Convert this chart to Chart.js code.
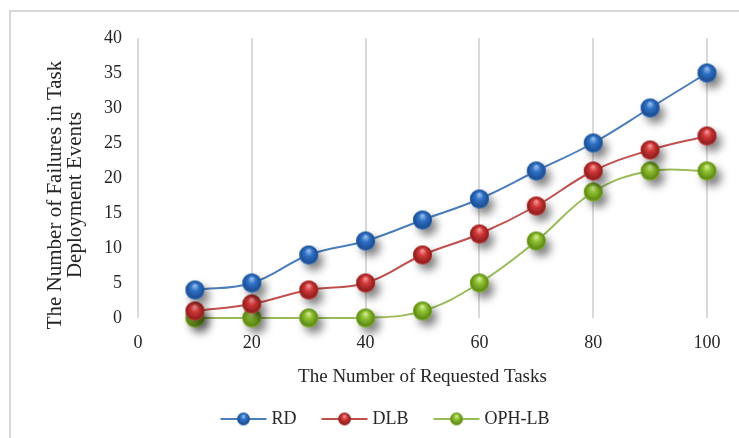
<!DOCTYPE html>
<html>
<head>
<meta charset="utf-8">
<script src="https://cdn.jsdelivr.net/npm/chart.js@4/dist/chart.umd.min.js"></script>
<style>
  html, body { margin: 0; padding: 0; background: #ffffff; }
  canvas { display: block; }
</style>
</head>
<body>
<canvas id="chart" width="739" height="438"></canvas>
<script>
// Requested tasks (x) and failures per method (y)
const tasks = [10, 20, 30, 40, 50, 60, 70, 80, 90, 100];
const rdFailures = [4, 5, 9, 11, 14, 17, 21, 25, 30, 35];
const dlbFailures = [1, 2, 4, 5, 9, 12, 16, 21, 24, 26];
const ophLbFailures = [0, 0, 0, 0, 1, 5, 11, 18, 21, 21];

const seriesNames = ['RD', 'DLB', 'OPH-LB'];
const xTitle = 'The Number of Requested Tasks';
const yTitleLines = ['The Number of Failures in Task', 'Deployment Events'];
const xRange = { min: 0, max: 100, step: 20 };
const yRange = { min: 0, max: 40, step: 5 };

const FONT = '"Liberation Serif", "Times New Roman", serif';
const TEXT_COLOR = '#262626';

// Glossy sphere marker drawn on an offscreen canvas
function sphere(base, light, dark, r, withShadow) {
  const pad = withShadow ? 16 : 3;
  const size = Math.ceil(2 * (r + pad));
  const c = document.createElement('canvas');
  c.width = size; c.height = size;
  const g = c.getContext('2d');
  const cx = size / 2, cy = size / 2;
  if (withShadow) {
    g.save();
    g.shadowColor = 'rgba(0,0,0,0.5)';
    g.shadowBlur = 8;
    g.shadowOffsetX = 5;
    g.shadowOffsetY = 6;
    g.beginPath();
    g.arc(cx, cy, r, 0, Math.PI * 2);
    g.fillStyle = base;
    g.fill();
    g.restore();
  }
  const grad = g.createRadialGradient(cx, cy - r * 0.5, 0, cx, cy, r * 1.05);
  grad.addColorStop(0, light);
  grad.addColorStop(0.4, base);
  grad.addColorStop(0.85, dark);
  grad.addColorStop(1, base);
  g.beginPath();
  g.arc(cx, cy, r, 0, Math.PI * 2);
  g.fillStyle = grad;
  g.fill();
  return c;
}

const palette = [
  { line: '#4a7ebb', base: '#2f72c8', light: '#a9c8f0', dark: '#1d4f92' },
  { line: '#c0504d', base: '#d23838', light: '#f6a5a5', dark: '#8f1f1f' },
  { line: '#9bbb59', base: '#8dbf2e', light: '#dcf2a4', dark: '#5f8a17' }
];

const markers = palette.map(p => sphere(p.base, p.light, p.dark, 9.5, true));
const legendMarkers = palette.map(p => sphere(p.base, p.light, p.dark, 6.5, false));

const seriesValues = [rdFailures, dlbFailures, ophLbFailures];

const datasets = seriesValues.map((vals, i) => ({
  label: seriesNames[i],
  data: tasks.map((t, k) => ({ x: t, y: vals[k] })),
  borderColor: palette[i].line,
  borderWidth: 2,
  tension: 0.4,
  pointStyle: markers[i],
  pointRadius: 10,
  pointHoverRadius: 10,
  clip: false
}));

// White background with a light grey frame
const framePlugin = {
  id: 'frame',
  beforeDraw(chart) {
    const ctx = chart.ctx;
    ctx.save();
    ctx.fillStyle = '#ffffff';
    ctx.fillRect(0, 0, chart.width, chart.height);
    ctx.strokeStyle = '#d9d9d9';
    ctx.lineWidth = 2;
    ctx.strokeRect(10, 11, chart.width + 20, chart.height + 20);
    ctx.restore();
  }
};

// Axis titles and the legend row underneath
const labelsPlugin = {
  id: 'labels',
  afterDraw(chart) {
    const ctx = chart.ctx;
    const area = chart.chartArea;
    ctx.save();
    ctx.fillStyle = TEXT_COLOR;
    ctx.font = '19px ' + FONT;
    ctx.textAlign = 'center';
    ctx.textBaseline = 'middle';
    ctx.fillText(xTitle, (area.left + area.right) / 2, 377);

    ctx.save();
    ctx.translate(0, 195);
    ctx.rotate(-Math.PI / 2);
    ctx.font = '21px ' + FONT;
    ctx.fillText(yTitleLines[0], 0, 55);
    ctx.fillText(yTitleLines[1], 0, 75);
    ctx.restore();

    // legend
    ctx.font = '18px ' + FONT;
    const lineLen = 46, textGap = 5, itemGap = 25, y = 419;
    const widths = chart.data.datasets.map(d => lineLen + textGap + ctx.measureText(d.label).width);
    const total = widths.reduce((a, b) => a + b, 0) + itemGap * (widths.length - 1);
    let x = 385 - total / 2;
    chart.data.datasets.forEach((d, i) => {
      ctx.strokeStyle = d.borderColor;
      ctx.lineWidth = 2;
      ctx.beginPath();
      ctx.moveTo(x, y);
      ctx.lineTo(x + lineLen, y);
      ctx.stroke();
      const m = legendMarkers[i];
      ctx.drawImage(m, x + lineLen / 2 - m.width / 2, y - m.height / 2);
      ctx.textAlign = 'left';
      ctx.fillStyle = TEXT_COLOR;
      ctx.fillText(d.label, x + lineLen + textGap, y);
      x += widths[i] + itemGap;
    });
    ctx.restore();
  }
};

new Chart(document.getElementById('chart'), {
  type: 'line',
  data: { datasets },
  options: {
    responsive: false,
    animation: false,
    events: [],
    layout: { padding: { top: 38, right: 32, left: 0, bottom: 0 } },
    plugins: { legend: { display: false }, tooltip: { enabled: false } },
    scales: {
      x: {
        type: 'linear',
        min: xRange.min,
        max: xRange.max,
        afterFit(s) { s.height = 120; },
        ticks: {
          stepSize: xRange.step,
          padding: 14,
          color: TEXT_COLOR,
          font: { family: FONT, size: 18 }
        },
        grid: { color: '#d9d9d9', lineWidth: 2, drawTicks: false },
        border: { display: false }
      },
      y: {
        min: yRange.min,
        max: yRange.max,
        afterFit(s) { s.width = 138; },
        ticks: {
          stepSize: yRange.step,
          padding: 16,
          color: TEXT_COLOR,
          font: { family: FONT, size: 18 }
        },
        grid: { display: false, drawTicks: false },
        border: { display: false }
      }
    }
  },
  plugins: [framePlugin, labelsPlugin]
});
</script>
</body>
</html>
